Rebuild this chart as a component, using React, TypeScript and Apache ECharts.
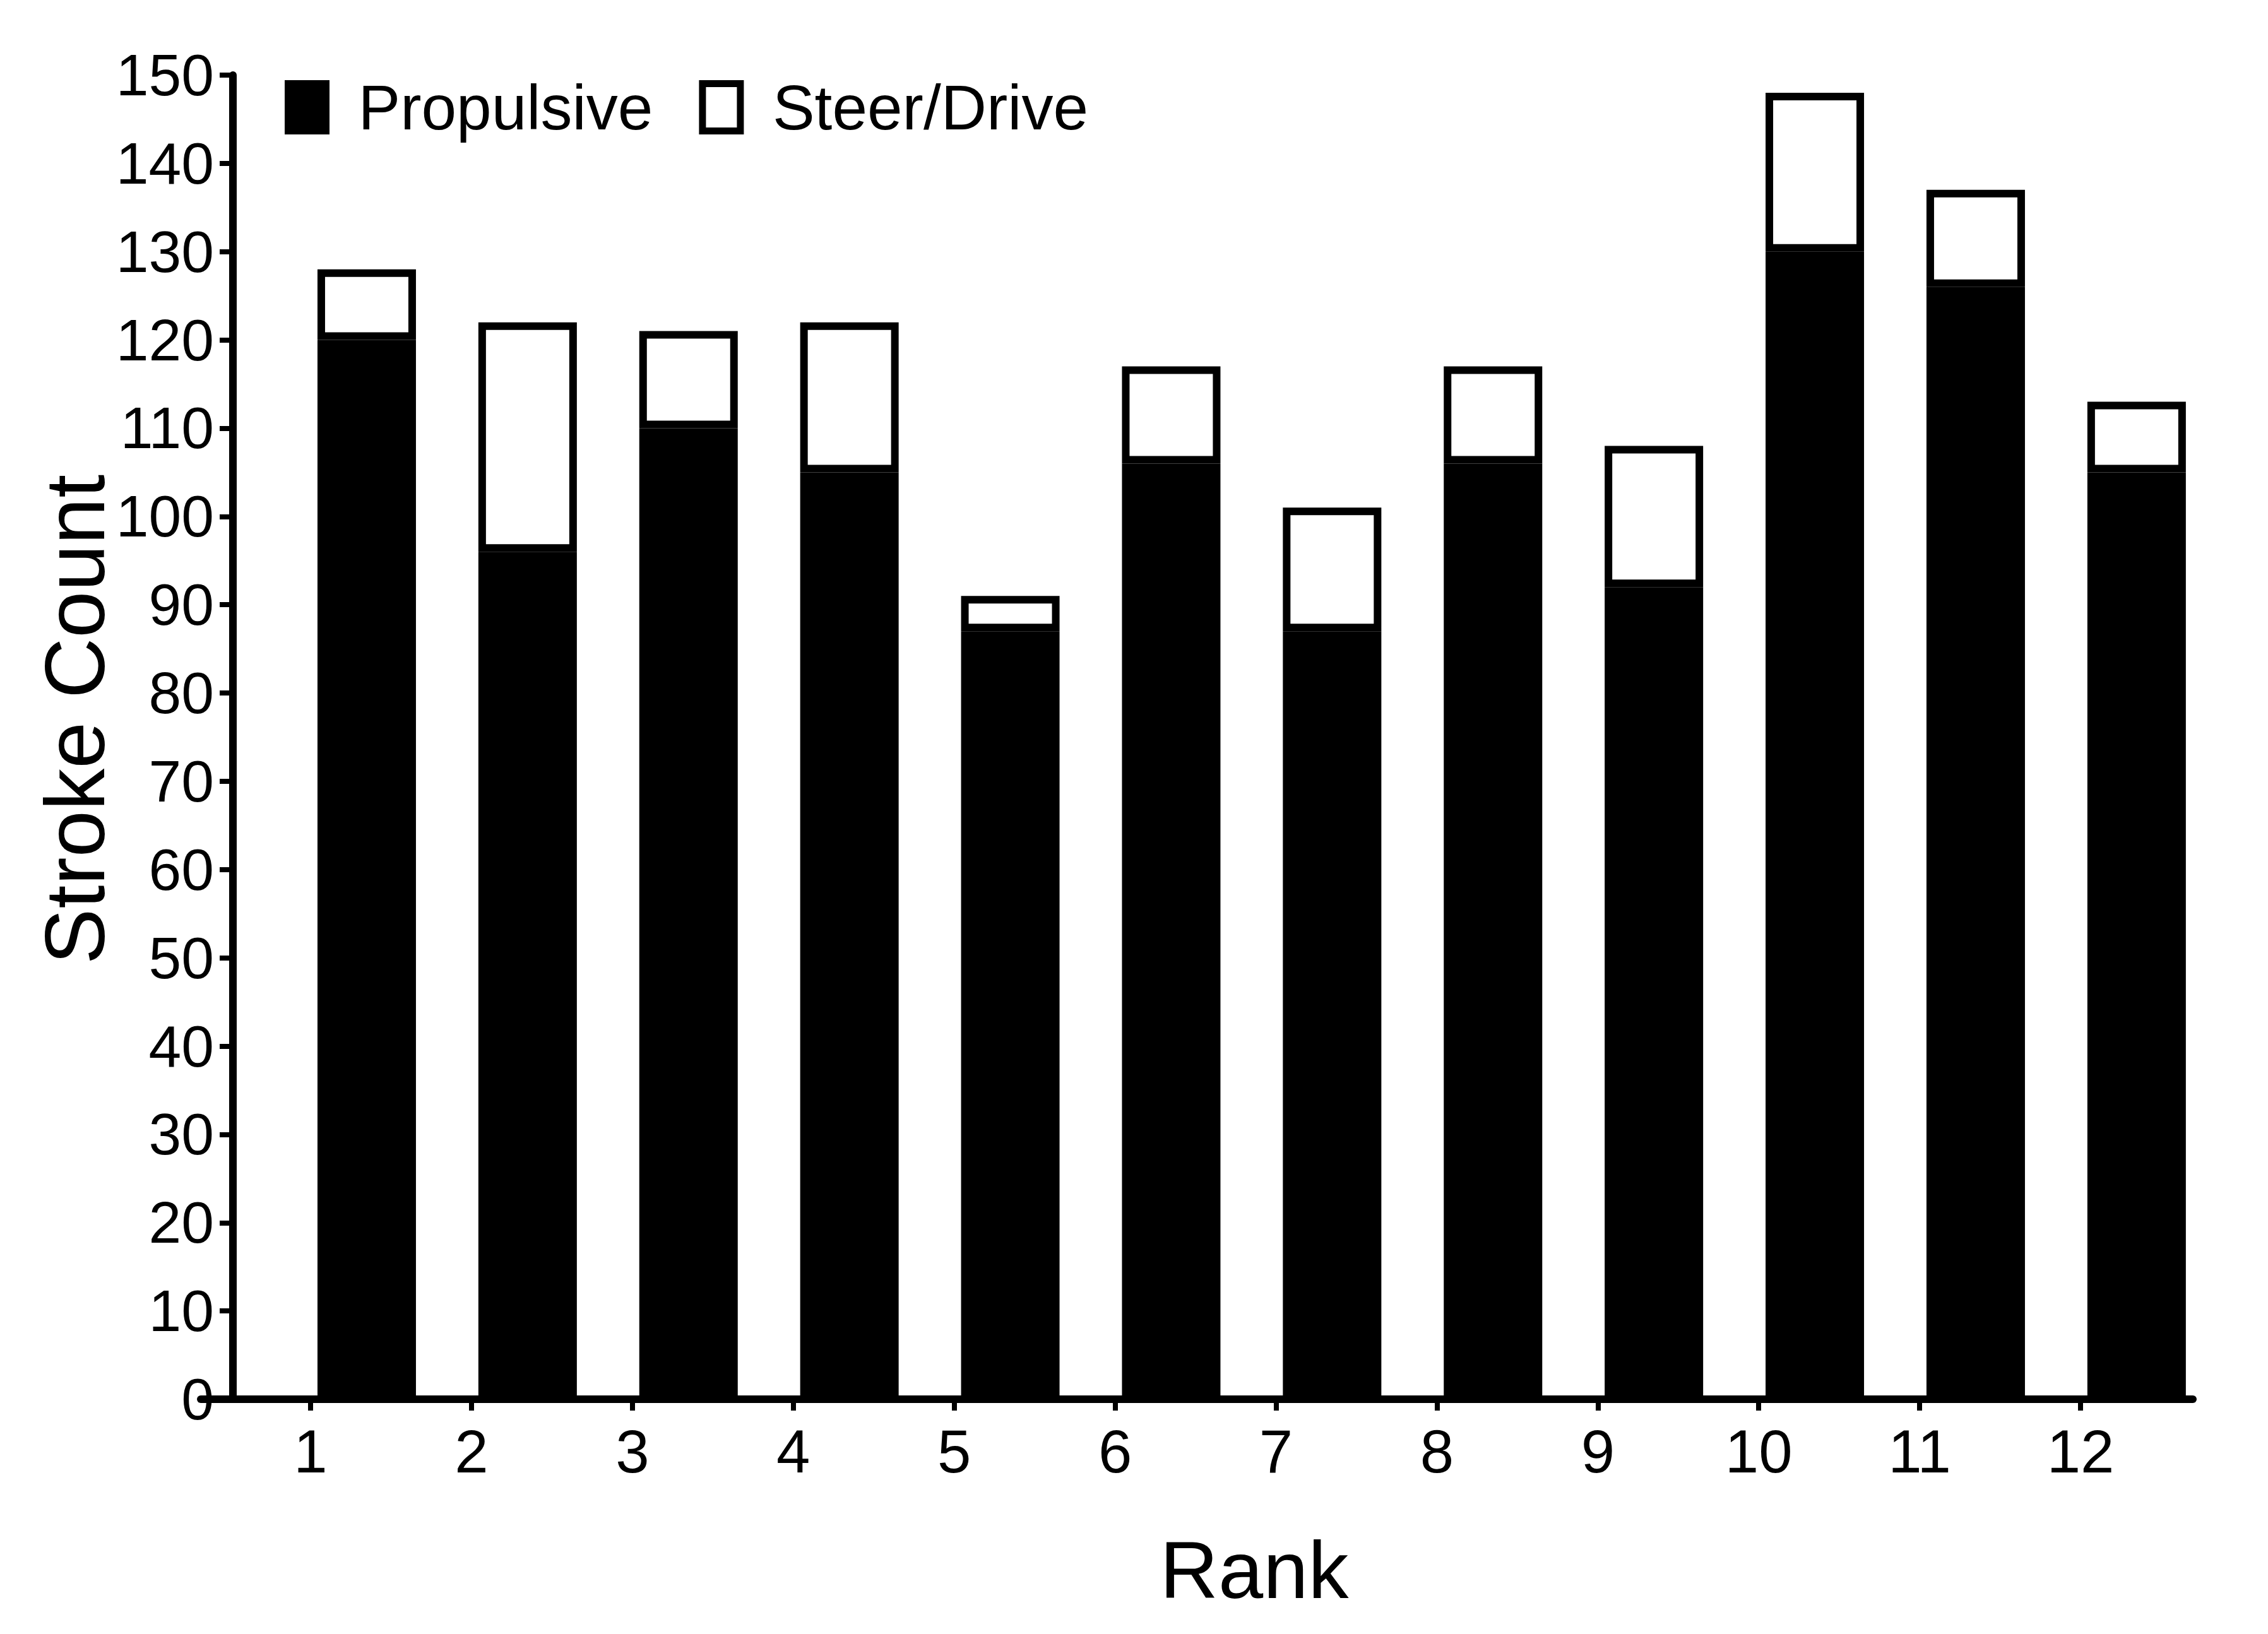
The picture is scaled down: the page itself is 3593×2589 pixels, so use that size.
import React, { useEffect, useRef } from "react";
import * as echarts from "echarts";

const ranks = [1, 2, 3, 4, 5, 6, 7, 8, 9, 10, 11, 12];
const rankLabels = ranks.map(String);
const propulsive = [120, 96, 110, 105, 87, 106, 87, 106, 92, 130, 126, 105];
const steerDrive = [8, 26, 11, 17, 4, 11, 14, 11, 16, 18, 11, 8];
const seriesNames = ["Propulsive", "Steer/Drive"];
const yTitle = "Stroke Count";
const xTitle = "Rank";

const FONT = "'Liberation Sans', Arial, Helvetica, sans-serif";

export default function App() {
  const ref = useRef<HTMLDivElement>(null);

  useEffect(() => {
    document.body.style.margin = "0";
    if (!ref.current) return;
    const chart = echarts.init(ref.current, undefined, { renderer: "svg" });
    const option = {
      animation: false,
      backgroundColor: "#ffffff",
      textStyle: { fontFamily: FONT, color: "#000" },
      grid: [
        // grid 0: bars (category bands, offset to the right of the rank ticks)
        { left: 453.5, top: 119, width: 3058.8, height: 2098, containLabel: false },
        // grid 1: visible axes
        { left: 318, top: 119, width: 3156, height: 2098, containLabel: false },
      ],
      legend: {
        data: seriesNames,
        left: 451,
        top: 120,
        padding: 0,
        icon: "rect",
        itemWidth: 60,
        itemHeight: 75,
        itemGap: 73,
        itemStyle: { borderWidth: 11, borderColor: "#000" },
        textStyle: { fontSize: 100, color: "#000", fontFamily: FONT, padding: [0, 0, 0, 46] },
        selectedMode: false,
      },
      xAxis: [
        {
          gridIndex: 0,
          type: "category",
          data: rankLabels,
          boundaryGap: true,
          show: false,
        },
        {
          gridIndex: 1,
          type: "value",
          min: 0.3174,
          max: 12.698,
          axisLine: { show: true, onZero: false, lineStyle: { color: "#000", width: 12 } },
          axisTick: { show: true, customValues: ranks, length: 18, lineStyle: { color: "#000", width: 8 } },
          axisLabel: { customValues: ranks, fontSize: 96, color: "#000", fontFamily: FONT, margin: 34 },
          splitLine: { show: false },
        },
      ],
      yAxis: [
        {
          gridIndex: 0,
          type: "value",
          min: 0,
          max: 150,
          interval: 10,
          show: false,
          splitLine: { show: false },
        },
        {
          gridIndex: 1,
          type: "value",
          min: 0,
          max: 150,
          interval: 10,
          offset: -51,
          axisLine: { show: true, lineStyle: { color: "#000", width: 12 } },
          axisTick: { show: true, length: 21, lineStyle: { color: "#000", width: 8 } },
          axisLabel: { fontSize: 93, color: "#000", fontFamily: FONT, margin: 30 },
          splitLine: { show: false },
        },
      ],
      graphic: [
        {
          type: "text",
          x: 119,
          y: 1140,
          rotation: Math.PI / 2,
          style: {
            text: yTitle,
            fontSize: 133,
            fontFamily: FONT,
            fill: "#000",
            align: "center",
            verticalAlign: "middle",
          },
        },
        {
          type: "text",
          x: 1987,
          y: 2487,
          style: {
            text: xTitle,
            fontSize: 128,
            fontFamily: FONT,
            fill: "#000",
            align: "center",
            verticalAlign: "middle",
          },
        },
      ],
      series: [
        {
          name: seriesNames[0],
          type: "bar",
          xAxisIndex: 0,
          yAxisIndex: 0,
          stack: "total",
          barWidth: 156,
          data: propulsive,
          itemStyle: { color: "#000", borderColor: "#000", borderWidth: 12 },
        },
        {
          name: seriesNames[1],
          type: "bar",
          xAxisIndex: 0,
          yAxisIndex: 0,
          stack: "total",
          barWidth: 156,
          data: steerDrive,
          itemStyle: { color: "#fff", borderColor: "#000", borderWidth: 12 },
        },
      ],
    };
    chart.setOption(option as any);
    return () => chart.dispose();
  }, []);

  return <div ref={ref} style={{ width: 3593, height: 2589 }} />;
}
